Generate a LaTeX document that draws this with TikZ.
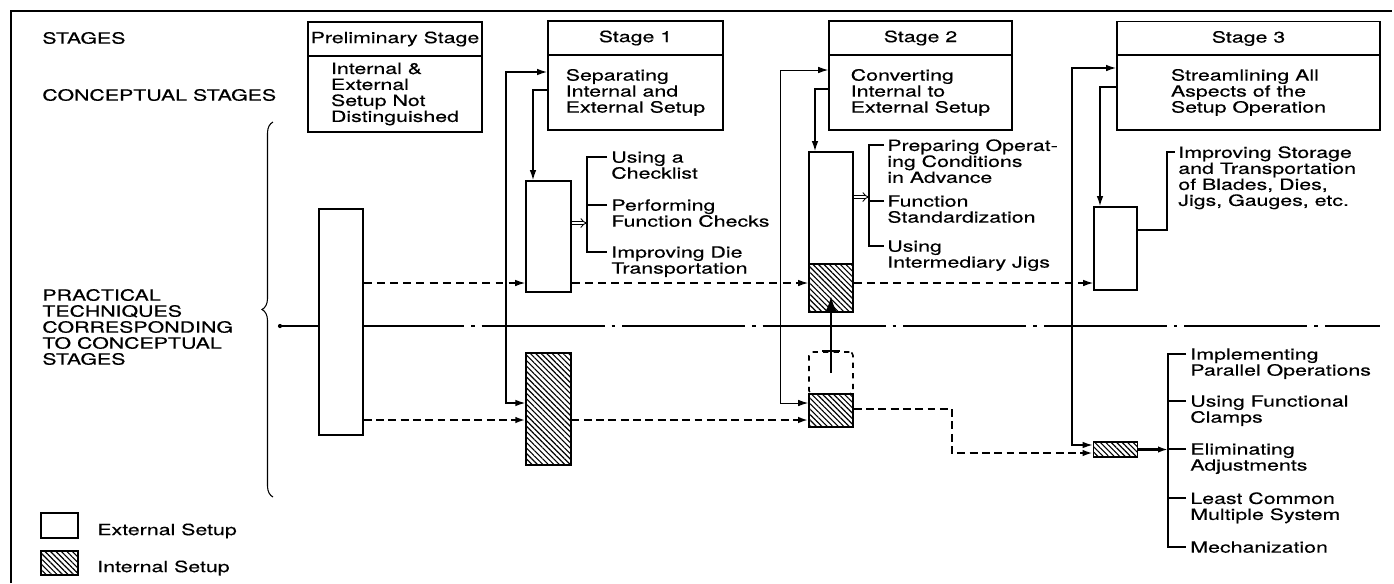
\documentclass[tikz,border=0pt]{standalone}
\usepackage{fontspec}
\setmainfont[FakeStretch=1.38,FakeBold=0.4]{TeX Gyre Heros}
\usetikzlibrary{arrows.meta,calc,patterns.meta,decorations.pathreplacing}
\newcommand{\figfont}{\fontsize{8.8}{9.1}\selectfont}

\begin{document}
\begin{tikzpicture}[x=0.02cm, y=-0.02cm,
  box/.style={draw, line width=0.9pt, inner sep=0pt, fill=white, font=\figfont, align=left},
  hatched/.style={draw, line width=0.9pt, inner sep=0pt, pattern={Lines[angle=-45,distance=2.2pt,line width=0.65pt]}},
  txt/.style={font=\figfont, inner sep=0pt, align=left},
  conn/.style={line width=0.8pt},
  thinconn/.style={line width=0.55pt},
  onetip/.style={-{Latex[length=2mm,width=1.3mm]}},
  twotips/.style={{Latex[length=2mm,width=1.3mm]}-{Latex[length=2mm,width=1.3mm]}},
  dashthin/.style={line width=0.7pt, dash pattern=on 4.5pt off 3pt},
  dashthick/.style={line width=1.3pt, dash pattern=on 4.5pt off 2.5pt},
  openarr/.style={double, double distance=1.4pt, line width=0.5pt, -{Implies}}
]
\useasboundingbox (0,0) rectangle (1394,583);

% frame
\draw[line width=1.6pt] (11,583) -- (11,11) -- (1392,11);

% row titles
\node[txt, anchor=west] (rowS) at (42,38) {STAGES};
\node[txt, anchor=west] (rowC) at (42,95) {CONCEPTUAL STAGES};
\node[txt, anchor=west] (rowP) at (42,327) {PRACTICAL\\TECHNIQUES\\CORRESPONDING\\TO CONCEPTUAL\\STAGES};
\draw[line width=0.6pt, decorate, decoration={brace, amplitude=0.22cm}] (273,497) -- (273,122);

% conceptual stages
\node[box, minimum width=3.48cm, minimum height=0.68cm, align=center] (prelimH) at (395,39) {Preliminary Stage};
\node[box, minimum width=3.48cm, minimum height=1.52cm] (prelimB) at (395,94) {Internal \&\\External\\Setup Not\\Distinguished};
\node[box, minimum width=3.5cm, minimum height=0.68cm, align=center] (s1H) at (635.5,38) {Stage 1};
\node[box, minimum width=3.5cm, minimum height=1.5cm] (s1B) at (635.5,92.5) {Separating\\Internal and\\External Setup};
\node[box, minimum width=3.66cm, minimum height=0.68cm, align=center] (s2H) at (920.5,38) {Stage 2};
\node[box, minimum width=3.66cm, minimum height=1.5cm] (s2B) at (920.5,92.5) {Converting\\Internal to\\External Setup};
\node[box, minimum width=5.26cm, minimum height=0.68cm, align=center] (s3H) at (1248.5,38.5) {Stage 3};
\node[box, minimum width=5.26cm, minimum height=1.5cm] (s3B) at (1248.5,92.5) {Streamlining All\\Aspects of the\\Setup Operation};

% centre line
\coordinate (cdot) at (280,326);
\fill (cdot) circle[radius=1.2pt];
\draw[conn] (cdot) -- (341,326);
\draw[conn, dash pattern=on 70pt off 4pt on 2pt off 4pt] (341,326) -- (1380,326);

% practical techniques
\node[box, minimum width=0.88cm, minimum height=4.52cm] (prelimP) at (341,322) {};
\node[box, minimum width=0.9cm, minimum height=2.22cm] (s1ext) at (548.5,236.5) {};
\node[hatched, minimum width=0.9cm, minimum height=2.24cm] (s1int) at (548.5,409) {};
\node[box, minimum width=0.88cm, minimum height=2.24cm] (s2ext) at (831,208) {};
\node[hatched, minimum width=0.88cm, minimum height=0.96cm] (s2intA) at (831,288) {};
\node[draw, line width=0.9pt, dashed, rounded corners=2pt, minimum width=0.88cm, minimum height=0.84cm] (s2dash) at (831,373) {};
\node[hatched, minimum width=0.88cm, minimum height=0.66cm] (s2intB) at (831,410.5) {};
\node[box, minimum width=0.86cm, minimum height=1.66cm] (s3ext) at (1115.5,248.5) {};
\node[hatched, minimum width=0.88cm, minimum height=0.3cm] (s3int) at (1115.5,449.5) {};

% Stage 1 links
\draw[conn, twotips] (s1int.west |- 0,403) -| (506,72) -- (s1B.west |- 0,72);
\draw[conn, onetip] (s1B.west |- 0,90) -| (s1ext.north -| 533,0);
% Stage 2 links
\draw[thinconn, twotips] (s2intB.west |- 0,403) -| (780,70) -- (s2B.west |- 0,70);
\draw[conn, onetip] (s2B.west |- 0,89) -| (s2ext.north -| 815,0);
% Stage 3 links
\draw[conn, twotips] (s3int.west |- 0,445) -| (1072,68) -- (s3B.west |- 0,68);
\draw[conn, onetip] (s3B.west |- 0,87) -| (s3ext.north -| 1100,0);

% setup flows
\draw[dashthin, onetip] (prelimP.east |- 0,283) -- (s1ext.west |- 0,283);
\draw[dashthin, onetip] (s1ext.east |- 0,283) -- (s2intA.west |- 0,283);
\draw[dashthin, onetip] (s2intA.east |- 0,283) -- (s3ext.west |- 0,283);
\draw[dashthick, onetip] (prelimP.east |- 0,420) -- (s1int.west |- 0,420);
\draw[dashthick, onetip] (s1int.east |- 0,420) -- (s2intB.west |- 0,420);
\draw[dashthick, onetip] (s2intB.east |- 0,409) -| (952,453) -- (s3int.west |- 0,453);

% conversion arrow
\draw[line width=1.5pt, -{Latex[length=3mm,width=2.2mm]}] (s2dash.center) -- (s2intA.center |- 0,296);
\draw[line width=1pt] ($(s2dash.north)+(-9,0)$) -- ($(s2dash.north)+(9,0)$);

% Stage 1 techniques
\node[txt, anchor=north west] (l1a) at (611,151) {Using a\\Checklist};
\node[txt, anchor=north west] (l1b) at (611,199) {Performing\\Function Checks};
\node[txt, anchor=north west] (l1c) at (611,246) {Improving Die\\Transportation};
\draw[openarr] (s1ext.east |- 0,223) -- (587,223);
\draw[conn] ($(l1a.north west)+(-4,6)$) -| ($(l1c.north west)+(-24,6)$) -- ($(l1c.north west)+(-4,6)$);
\draw[conn] ($(l1b.north west)+(-4,6)$) -- ($(l1b.north west)+(-24,6)$);

% Stage 2 techniques
\node[txt, anchor=north west] (l2a) at (887,139) {Preparing Operat-\\ing Conditions\\in Advance};
\node[txt, anchor=north west] (l2b) at (887,195) {Function\\Standardization};
\node[txt, anchor=north west] (l2c) at (887,240) {Using\\Intermediary Jigs};
\draw[openarr] (s2ext.east |- 0,197) -- (869,197);
\draw[conn] ($(l2a.north west)+(-3,6)$) -| ($(l2c.north west)+(-18,6)$) -- ($(l2c.north west)+(-3,6)$);
\draw[conn] ($(l2b.north west)+(-3,6)$) -- ($(l2b.north west)+(-18,6)$);

% Stage 3 techniques
\node[txt, anchor=north west] (l3) at (1178,146) {Improving Storage\\and Transportation\\of Blades, Dies,\\Jigs, Gauges, etc.};
\draw[conn] (s3ext.east |- 0,230) -| ($(l3.north west)+(-11,6)$) -- ($(l3.north west)+(-3,6)$);

\node[txt, anchor=north west] (l4a) at (1190,348) {Implementing\\Parallel Operations};
\node[txt, anchor=north west] (l4b) at (1190,395) {Using Functional\\Clamps};
\node[txt, anchor=north west] (l4c) at (1190,443) {Eliminating\\Adjustments};
\node[txt, anchor=north west] (l4d) at (1190,492) {Least Common\\Multiple System};
\node[txt, anchor=north west] (l4e) at (1190,541) {Mechanization};
\draw[line width=1.3pt, onetip] (s3int.east) -- (1168,449.5);
\draw[conn] ($(l4a.north west)+(-4,6)$) -| ($(l4e.north west)+(-22,6)$) -- ($(l4e.north west)+(-4,6)$);
\foreach \n in {l4b,l4c,l4d}
  \draw[conn] ($(\n.north west)+(-4,6)$) -- ($(\n.north west)+(-22,6)$);

% legend
\node[box, minimum width=0.74cm, minimum height=0.5cm] (legExt) at (59.5,525.5) {};
\node[hatched, minimum width=0.74cm, minimum height=0.48cm] (legInt) at (59.5,563) {};
\node[txt, anchor=west] (legExtT) at (97,531) {External Setup};
\node[txt, anchor=west] (legIntT) at (97,568) {Internal Setup};
\end{tikzpicture}
\end{document}
